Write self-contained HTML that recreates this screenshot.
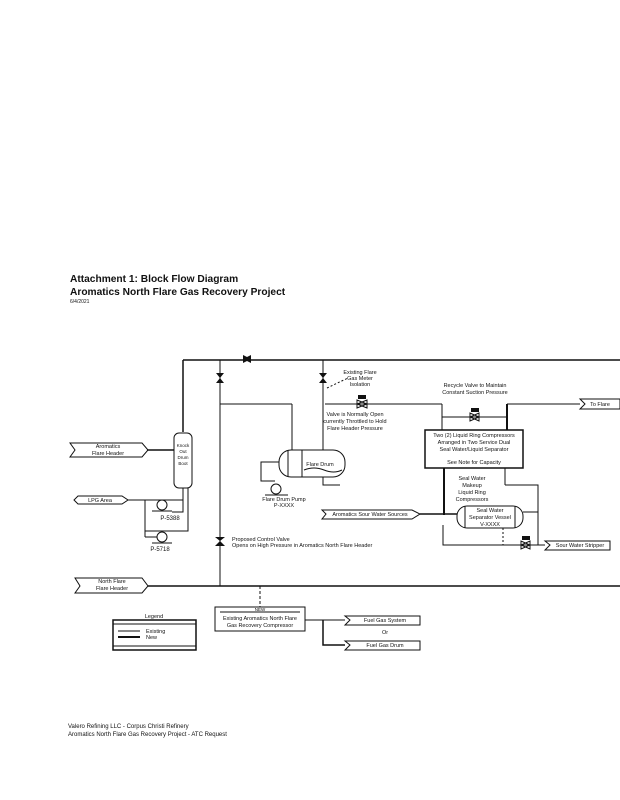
<!DOCTYPE html>
<html><head><style>
html,body{margin:0;padding:0;background:#fff;}
svg{display:block;}
text{font-family:"Liberation Sans",sans-serif;fill:#111;}
</style></head><body>
<svg width="620" height="800" viewBox="0 0 620 800" xmlns="http://www.w3.org/2000/svg">
<rect width="620" height="800" fill="#fff"/>
<text x="70" y="282" font-size="10.2" font-weight="bold">Attachment 1: Block Flow Diagram</text>
<text x="70" y="295" font-size="10.2" font-weight="bold">Aromatics North Flare Gas Recovery Project</text>
<text x="70" y="303" font-size="5">6/4/2021</text>

<g stroke="#111" fill="none" stroke-width="1">
<line x1="183" y1="360" x2="620" y2="360" stroke-width="1.5"/>
<line x1="183" y1="360" x2="183" y2="432" stroke-width="1.5"/>
<line x1="220" y1="360" x2="220" y2="586"/>
<line x1="323" y1="360" x2="323" y2="450"/>
<line x1="220" y1="404" x2="292" y2="404"/>
<line x1="292" y1="404" x2="292" y2="450"/>
<line x1="325" y1="404" x2="442" y2="404"/>
<line x1="442" y1="404" x2="442" y2="430"/>
<line x1="442" y1="417" x2="507" y2="417"/>
<line x1="507" y1="404" x2="507" y2="430" stroke-width="2"/>
<line x1="507" y1="404" x2="580" y2="404"/>
<rect x="425" y="430" width="98" height="38" stroke-width="1.5"/>
<line x1="444" y1="468" x2="444" y2="515" stroke-width="2"/>
<line x1="505" y1="468" x2="505" y2="485"/>
<polyline points="505,485 538,485 538,545"/>
<rect x="457" y="506" width="66" height="22" rx="10"/>
<line x1="465" y1="506" x2="465" y2="528"/>
<line x1="515" y1="506" x2="515" y2="528"/>
<line x1="420" y1="514" x2="457" y2="514" stroke-width="1.5"/>
<line x1="523" y1="512" x2="538" y2="512"/>
<polyline points="443,525 443,545 545,545"/>
<line x1="503" y1="528" x2="503" y2="545" stroke-dasharray="2,2"/>
<rect x="174" y="433" width="18" height="55" rx="5"/>
<line x1="147" y1="450" x2="174" y2="450" stroke-width="1.5"/>
<line x1="183" y1="488" x2="183" y2="512"/>
<polyline points="128,500 145,500 145,531 188,531 188,488"/>
<polyline points="145,500 172,500 183,500 183,512 172,512"/>
<circle cx="162" cy="505" r="5"/><circle cx="162" cy="537" r="5"/>
<line x1="145" y1="531" x2="145" y2="537"/><line x1="145" y1="537" x2="157" y2="537"/>
<line x1="152" y1="543" x2="172" y2="543"/>
<line x1="152" y1="511" x2="172" y2="511"/>
<rect x="279" y="450" width="66" height="27" rx="12"/>
<line x1="288" y1="450" x2="288" y2="477"/>
<line x1="302" y1="450" x2="302" y2="477"/>
<path d="M304,470 q10,-4 20,0 t18,0"/>
<polyline points="279,462 261,462 261,481 275,481"/>
<polyline points="323,477 323,485 340,485"/>
<circle cx="276" cy="489" r="5"/>
<line x1="265" y1="495" x2="288" y2="495"/>
<line x1="148" y1="586" x2="620" y2="586" stroke-width="1.5"/>
<line x1="260" y1="586" x2="260" y2="607" stroke-dasharray="3,2"/>
<rect x="215" y="607" width="90" height="24"/>
<line x1="220" y1="612" x2="300" y2="612"/>
<polyline points="305,620 345,620"/>
<polyline points="323,620 323,645 345,645" stroke-width="1.5"/>
<rect x="113" y="620" width="83" height="30" stroke-width="1.5"/>
<line x1="113" y1="624" x2="196" y2="624"/>
<line x1="113" y1="646" x2="196" y2="646"/>
<line x1="118" y1="631" x2="140" y2="631"/>
<line x1="118" y1="637" x2="140" y2="637" stroke-width="2"/>
<line x1="327" y1="388" x2="348" y2="378" stroke-dasharray="2,2"/>
</g>
<g fill="#111">
<polygon points="243,355 243,363 251,359"/><polygon points="251,355 251,363 243,359"/>
<polygon points="216,373 224,373 220,378"/><polygon points="216,383 224,383 220,378"/>
<polygon points="319,373 327,373 323,378"/><polygon points="319,383 327,383 323,378"/>
<polygon points="357,400 357,408 367,404" fill="none" stroke="#111"/><polygon points="367,400 367,408 357,404" fill="none" stroke="#111"/>
<rect x="358" y="395" width="8" height="4"/>
<polygon points="470,413 470,421 479,417" fill="none" stroke="#111"/><polygon points="479,413 479,421 470,417" fill="none" stroke="#111"/>
<rect x="471" y="408" width="8" height="4"/>
<polygon points="521,541 521,549 530,545" fill="none" stroke="#111"/><polygon points="530,541 530,549 521,545" fill="none" stroke="#111"/>
<rect x="522" y="536" width="8" height="4"/>
<polygon points="215,537 225,537 220,541"/><polygon points="215,546 225,546 220,541"/>
</g>
<g fill="none" stroke="#111">
<polygon points="70,443 142,443 148,450 142,457 70,457 75,450"/>
<polygon points="78,496 122,496 128,500 122,504 78,504 74,500"/>
<polygon points="75,578 142,578 148,586 142,593 75,593 80,586"/>
<polygon points="322,510 412,510 420,514 412,519 322,519 326,514"/>
<polygon points="580,399 620,399 620,409 580,409 585,404"/>
<polygon points="545,541 610,541 610,550 545,550 550,545"/>
<polygon points="345,616 420,616 420,625 345,625 350,620"/>
<polygon points="345,641 420,641 420,650 345,650 350,645"/>
</g>
<g font-size="5.5" text-anchor="middle">
<text x="108" y="448">Aromatics</text><text x="108" y="455">Flare Header</text>
<text x="100" y="502">LPG Area</text>
<text x="112" y="583">North Flare</text><text x="112" y="590">Flare Header</text>
<text x="183" y="447" font-size="4.5">Knock</text><text x="183" y="453" font-size="4.5">Out</text><text x="183" y="459" font-size="4.5">Drum</text><text x="183" y="465" font-size="4.5">Boot</text>
<text x="170" y="520" font-size="6">P-5388</text>
<text x="160" y="551" font-size="6">P-5718</text>
<text x="320" y="466">Flare Drum</text>
<text x="284" y="501">Flare Drum Pump</text><text x="284" y="507">P-XXXX</text>
<text x="360" y="374">Existing Flare</text><text x="360" y="380">Gas Meter</text><text x="360" y="386">Isolation</text>
<text x="355" y="416">Valve is Normally Open</text><text x="355" y="423">currently Throttled to Hold</text><text x="355" y="430">Flare Header Pressure</text>
<text x="475" y="387">Recycle Valve to Maintain</text><text x="475" y="394">Constant Suction Pressure</text>
<text x="474" y="437">Two (2) Liquid Ring Compressors</text><text x="474" y="444">Arranged in Two Service Dual</text><text x="474" y="451">Seal Water/Liquid Separator</text>
<text x="474" y="464">See Note for Capacity</text>
<text x="472" y="480">Seal Water</text><text x="472" y="487">Makeup</text><text x="472" y="494">Liquid Ring</text><text x="472" y="501">Compressors</text>
<text x="490" y="512">Seal Water</text><text x="490" y="519">Separator Vessel</text><text x="490" y="526">V-XXXX</text>
<text x="370" y="516">Aromatics Sour Water Sources</text>
<text x="600" y="406">To Flare</text>
<text x="580" y="547">Sour Water Stripper</text>
<text x="260" y="611" font-size="4.5">NEW</text>
<text x="260" y="620">Existing Aromatics North Flare</text><text x="260" y="627">Gas Recovery Compressor</text>
<text x="385" y="622">Fuel Gas System</text><text x="385" y="634">Or</text><text x="385" y="647">Fuel Gas Drum</text>
<text x="154" y="618">Legend</text>
</g>
<g font-size="5.5">
<text x="232" y="541">Proposed Control Valve</text>
<text x="232" y="547">Opens on High Pressure in Aromatics North Flare Header</text>
<text x="146" y="633">Existing</text><text x="146" y="639">New</text>
<text x="68" y="728" font-size="6">Valero Refining LLC - Corpus Christi Refinery</text>
<text x="68" y="736" font-size="6">Aromatics North Flare Gas Recovery Project - ATC Request</text>
</g>
</svg>
</body></html>
